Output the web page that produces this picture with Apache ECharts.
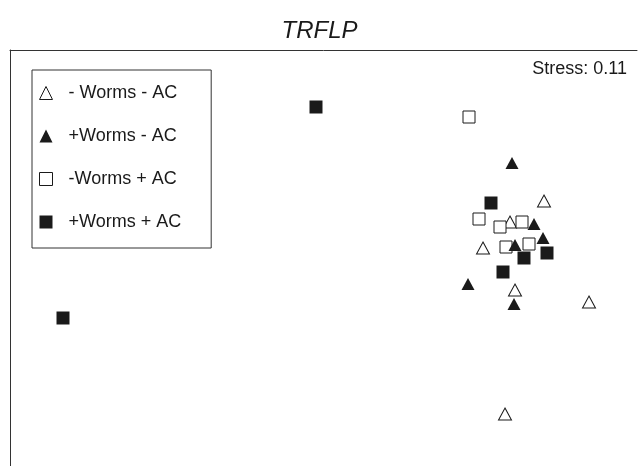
<!DOCTYPE html>
<html>
<head>
<meta charset="utf-8">
<script src="https://cdn.jsdelivr.net/npm/echarts@6/dist/echarts.min.js"></script>
<style>
  html, body { margin: 0; padding: 0; background: #fff; }
  #chart { width: 639px; height: 466px; }
</style>
</head>
<body>
<div id="chart"></div>
<script>
// NMDS ordination scores (plot units, x from left edge, y from bottom)
var openTriX = [534, 500, 473, 505, 579, 495]
var openTriY = [265, 244, 218, 176, 164, 52]
var fillTriX = [502, 524, 533, 505, 458, 504]
var fillTriY = [303, 242, 228, 221, 182, 162]
var openSqX = [459, 469, 490, 512, 496, 519]
var openSqY = [349, 247, 239, 244, 219, 222]
var fillSqX = [306, 53, 481, 514, 537, 493]
var fillSqY = [359, 148, 263, 208, 213, 194]
var groupNames = ['- Worms - AC', '+Worms - AC', '-Worms + AC', '+Worms + AC']
var stressText = 'Stress: 0.11'

function pairs(xs, ys) {
  var out = []
  for (var i = 0; i < xs.length; i++) {
    out.push([xs[i], ys[i]])
  }
  return out
}

var ink = '#1a1a1a'
var chart = echarts.init(document.getElementById('chart'))
chart.setOption({
  animation: false,
  backgroundColor: '#fff',
  textStyle: { fontFamily: 'Liberation Sans, Arial, sans-serif' },
  title: {
    text: 'TRFLP',
    left: 'center',
    top: 14,
    textStyle: {
      fontSize: 24,
      fontStyle: 'italic',
      fontWeight: 'normal',
      color: '#1a1a1a'
    }
  },
  legend: {
    orient: 'vertical',
    left: 32,
    top: 70,
    data: [
      { name: groupNames[0], icon: 'triangle' },
      { name: groupNames[1], icon: 'triangle' },
      { name: groupNames[2], icon: 'rect' },
      { name: groupNames[3], icon: 'rect' }
    ],
    itemWidth: 13,
    itemHeight: 13,
    itemGap: 25,
    padding: [14, 30, 17, 7],
    borderColor: '#333',
    borderWidth: 1,
    itemStyle: { borderWidth: 1 },
    textStyle: {
      fontSize: 18,
      color: '#1a1a1a',
      padding: [0, 0, 0, 11]
    }
  },
  graphic: [
    {
      type: 'text',
      right: 12,
      top: 60,
      style: {
        text: stressText,
        fontSize: 18,
        fill: '#1a1a1a',
        fontFamily: 'Liberation Sans, Arial, sans-serif'
      }
    }
  ],
  grid: {
    left: 10,
    right: 2,
    top: 50,
    bottom: 0
  },
  xAxis: {
    type: 'value',
    position: 'top',
    min: 0,
    max: 627,
    axisLine: { show: true, onZero: false, lineStyle: { color: '#333', width: 1 } },
    axisTick: { show: false },
    axisLabel: { show: false },
    splitLine: { show: false }
  },
  yAxis: {
    type: 'value',
    min: 0,
    max: 416,
    axisLine: { show: true, onZero: false, lineStyle: { color: '#333', width: 1 } },
    axisTick: { show: false },
    axisLabel: { show: false },
    splitLine: { show: false }
  },
  series: [
    {
      name: groupNames[0],
      type: 'scatter',
      symbol: 'triangle',
      symbolSize: [13, 12],
      itemStyle: { color: '#fff', borderColor: ink, borderWidth: 1, opacity: 1 },
      data: pairs(openTriX, openTriY)
    },
    {
      name: groupNames[2],
      type: 'scatter',
      symbol: 'rect',
      symbolSize: 12,
      itemStyle: { color: '#fff', borderColor: ink, borderWidth: 1, opacity: 1 },
      data: pairs(openSqX, openSqY)
    },
    {
      name: groupNames[1],
      type: 'scatter',
      symbol: 'triangle',
      symbolSize: [13, 12],
      itemStyle: { color: ink, opacity: 1 },
      data: pairs(fillTriX, fillTriY)
    },
    {
      name: groupNames[3],
      type: 'scatter',
      symbol: 'rect',
      symbolSize: 13,
      itemStyle: { color: ink, opacity: 1 },
      data: pairs(fillSqX, fillSqY)
    }
  ]
})
</script>
</body>
</html>
